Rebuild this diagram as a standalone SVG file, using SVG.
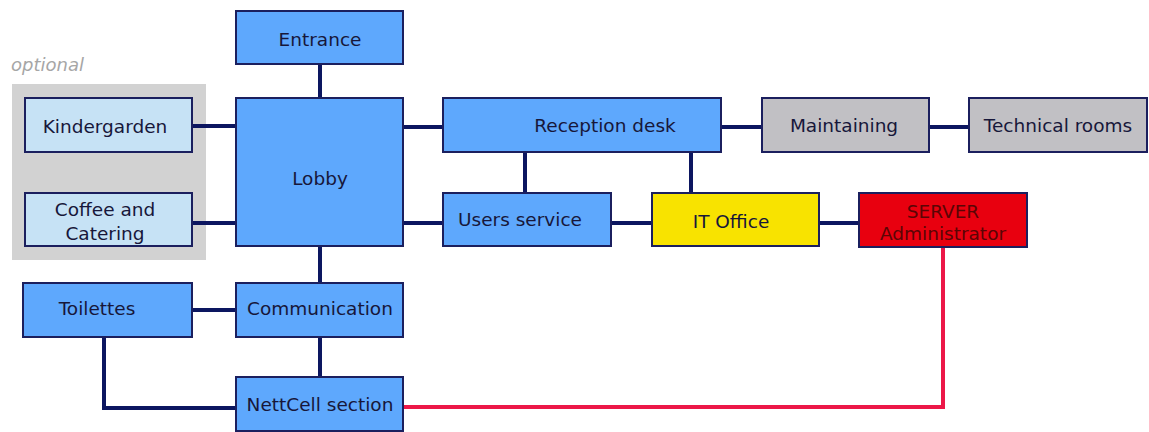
<svg xmlns="http://www.w3.org/2000/svg" width="1149" height="432" viewBox="0 0 1149 432">
<style>
.box{stroke:#1b1f5e;stroke-width:2}
.blue{fill:#5ea8fd}
.light{fill:#c6e2f5}
.gray{fill:#c1c0c4}
.yellow{fill:#f8e300}
.red{fill:#e8000f}
.t{font-family:"DejaVu Sans",Verdana,sans-serif;font-size:18.5px;fill:#17173a;text-anchor:middle}
.tr{fill:#5a0505}
.c{fill:none;stroke:#0c1660;stroke-width:4}
.cr{fill:none;stroke:#ec1848;stroke-width:4}
</style>
<rect x="0" y="0" width="1149" height="432" fill="#ffffff"/>
<g id="optional-group">
<rect x="12" y="84" width="194" height="176" fill="#d2d2d2"/>
<text x="47.5" y="71" style="font-family:'DejaVu Sans',Verdana,sans-serif;font-size:18px;font-style:italic;fill:#a6a6a6;text-anchor:middle">optional</text>
</g>
<g id="connectors">
<line class="c" x1="320" y1="64" x2="320" y2="98"/>
<line class="c" x1="192" y1="126" x2="236" y2="126"/>
<line class="c" x1="192" y1="223" x2="236" y2="223"/>
<line class="c" x1="403" y1="127" x2="443" y2="127"/>
<line class="c" x1="403" y1="223" x2="443" y2="223"/>
<line class="c" x1="525" y1="152" x2="525" y2="193"/>
<line class="c" x1="691" y1="152" x2="691" y2="193"/>
<line class="c" x1="611" y1="223" x2="652" y2="223"/>
<line class="c" x1="819" y1="223" x2="859" y2="223"/>
<line class="c" x1="721" y1="127" x2="762" y2="127"/>
<line class="c" x1="929" y1="127" x2="969" y2="127"/>
<line class="c" x1="320" y1="246" x2="320" y2="283"/>
<line class="c" x1="192" y1="310" x2="236" y2="310"/>
<line class="c" x1="320" y1="337" x2="320" y2="377"/>
<polyline class="c" points="104,337 104,408 236,408"/>
<polyline class="cr" points="403,407 943,407 943,247"/>
</g>
<g id="entrance"><rect class="box blue" x="236" y="11" width="167" height="53"/><text class="t" x="320" y="46">Entrance</text></g>
<g id="lobby"><rect class="box blue" x="236" y="98" width="167" height="148"/><text class="t" x="320" y="185">Lobby</text></g>
<g id="kindergarden"><rect class="box light" x="25" y="98" width="167" height="54"/><text class="t" x="105" y="133">Kindergarden</text></g>
<g id="coffee"><rect class="box light" x="25" y="193" width="167" height="53"/><text class="t" x="105" y="216">Coffee and</text><text class="t" x="105" y="240">Catering</text></g>
<g id="reception"><rect class="box blue" x="443" y="98" width="278" height="54"/><text class="t" x="605" y="132">Reception desk</text></g>
<g id="users-service"><rect class="box blue" x="443" y="193" width="168" height="53"/><text class="t" x="520" y="226">Users service</text></g>
<g id="it-office"><rect class="box yellow" x="652" y="193" width="167" height="53"/><text class="t" x="731" y="228">IT Office</text></g>
<g id="server-admin"><rect class="box red" x="859" y="193" width="168" height="54"/><text class="t tr" x="943" y="218">SERVER</text><text class="t tr" x="943" y="240">Administrator</text></g>
<g id="maintaining"><rect class="box gray" x="762" y="98" width="167" height="54"/><text class="t" x="844" y="132">Maintaining</text></g>
<g id="technical-rooms"><rect class="box gray" x="969" y="98" width="178" height="54"/><text class="t" x="1058" y="132">Technical rooms</text></g>
<g id="toilettes"><rect class="box blue" x="23" y="283" width="169" height="54"/><text class="t" x="97" y="315">Toilettes</text></g>
<g id="communication"><rect class="box blue" x="236" y="283" width="167" height="54"/><text class="t" x="320" y="315">Communication</text></g>
<g id="nettcell"><rect class="box blue" x="236" y="377" width="167" height="54"/><text class="t" x="320" y="411">NettCell section</text></g>
</svg>
